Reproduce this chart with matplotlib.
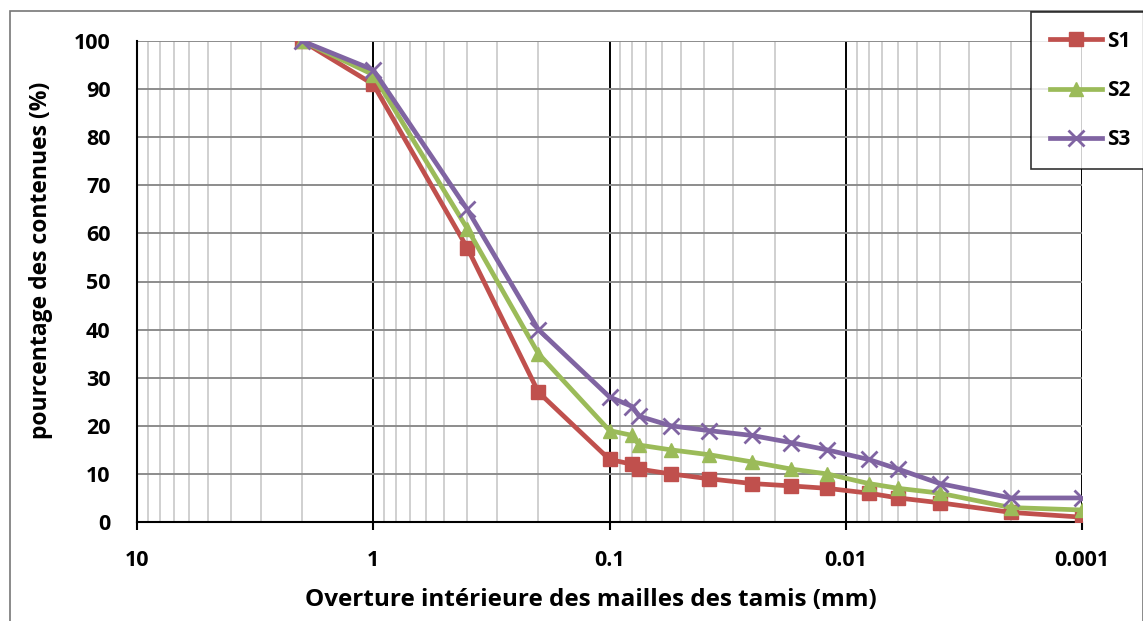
import matplotlib
matplotlib.use("Agg")
import matplotlib.pyplot as plt
from matplotlib.ticker import FixedLocator, NullFormatter, LogLocator
from matplotlib.patches import Rectangle

sizes = [2, 1, 0.4, 0.2, 0.1, 0.08, 0.075, 0.055, 0.038, 0.025, 0.017, 0.012, 0.008, 0.006, 0.004, 0.002, 0.001]
s1 = [100, 91, 57, 27, 13, 12, 11, 10, 9, 8, 7.5, 7, 6, 5, 4, 2, 1]
s2 = [100, 93, 61, 35, 19, 18, 16, 15, 14, 12.5, 11, 10, 8, 7, 6, 3, 2.5]
s3 = [100, 94, 65, 40, 26, 24, 22, 20, 19, 18, 16.5, 15, 13, 11, 8, 5, 5]
series_names = ["S1", "S2", "S3"]
xtick_vals = [10, 1, 0.1, 0.01, 0.001]
xtick_labels = ["10", "1", "0.1", "0.01", "0.001"]
ytick_vals = list(range(0, 101, 10))

plt.rcParams['font.family'] = ['Open Sans', 'DejaVu Sans']

fig = plt.figure(figsize=(11.43, 6.21), dpi=100)
W, H = 1143, 621
ax = fig.add_axes([137 / W, 1 - 522 / H, (1082 - 137) / W, (522 - 41) / H])

colors = ["#C0504D", "#9BBB59", "#8064A2"]
markers = ["s", "^", "x"]
msizes = [10, 10, 11]
for ys, c, m, ms, name in zip([s1, s2, s3], colors, markers, msizes, series_names):
    ax.plot(sizes, ys, color=c, marker=m, markersize=ms, lw=3.4, mew=2 if m == "x" else 1,
            label=name, zorder=3)

ax.set_xscale("log")
ax.set_xlim(10, 0.001)
ax.set_ylim(0, 100)

ax.xaxis.set_major_locator(FixedLocator(xtick_vals))
ax.set_xticklabels(xtick_labels)
ax.xaxis.set_minor_locator(LogLocator(base=10, subs=range(2, 10)))
ax.xaxis.set_minor_formatter(NullFormatter())
ax.set_yticks(ytick_vals)

ax.grid(which="minor", axis="x", color="#c4c4c4", lw=1.1)
ax.grid(which="major", axis="x", color="black", lw=1.4)
ax.grid(which="major", axis="y", color="#8c8c8c", lw=1.4)
ax.set_axisbelow(True)

for side in ["top", "right"]:
    ax.spines[side].set_visible(False)
ax.spines["left"].set_linewidth(1.5)
ax.spines["bottom"].set_linewidth(1.5)
ax.tick_params(axis="x", which="major", length=6, width=1.5, direction="out", pad=14)
ax.tick_params(axis="x", which="minor", length=0)
ax.tick_params(axis="y", length=0, pad=19)
for lbl in ax.get_xticklabels() + ax.get_yticklabels():
    lbl.set_fontweight("bold")
    lbl.set_fontsize(15.5)

ax.set_xlabel("Overture intérieure des mailles des tamis (mm)", fontsize=17.5, fontweight="bold")
ax.set_ylabel("pourcentage des contenues (%)", fontsize=16.5, fontweight="bold")
ax.xaxis.set_label_coords(0.48, -0.137)
ax.yaxis.set_label_coords(-0.089, 0.543)

# outer chart border
fig.patches.append(Rectangle((10 / W, -0.01), (W - 10) / W, (H - 11) / H + 0.01, transform=fig.transFigure,
                             fill=False, edgecolor="#777777", lw=1.2))

leg = fig.legend(loc="upper left", bbox_to_anchor=(1031 / W, 1 - 12 / H), frameon=True,
                 fancybox=False, edgecolor="black", prop={"weight": "bold", "size": 15},
                 handlelength=2.5, labelspacing=1.35, borderpad=0.9, handletextpad=0.25,
                 borderaxespad=0)
leg.get_frame().set_linewidth(1.2)

fig.savefig("out.png", dpi=100)
